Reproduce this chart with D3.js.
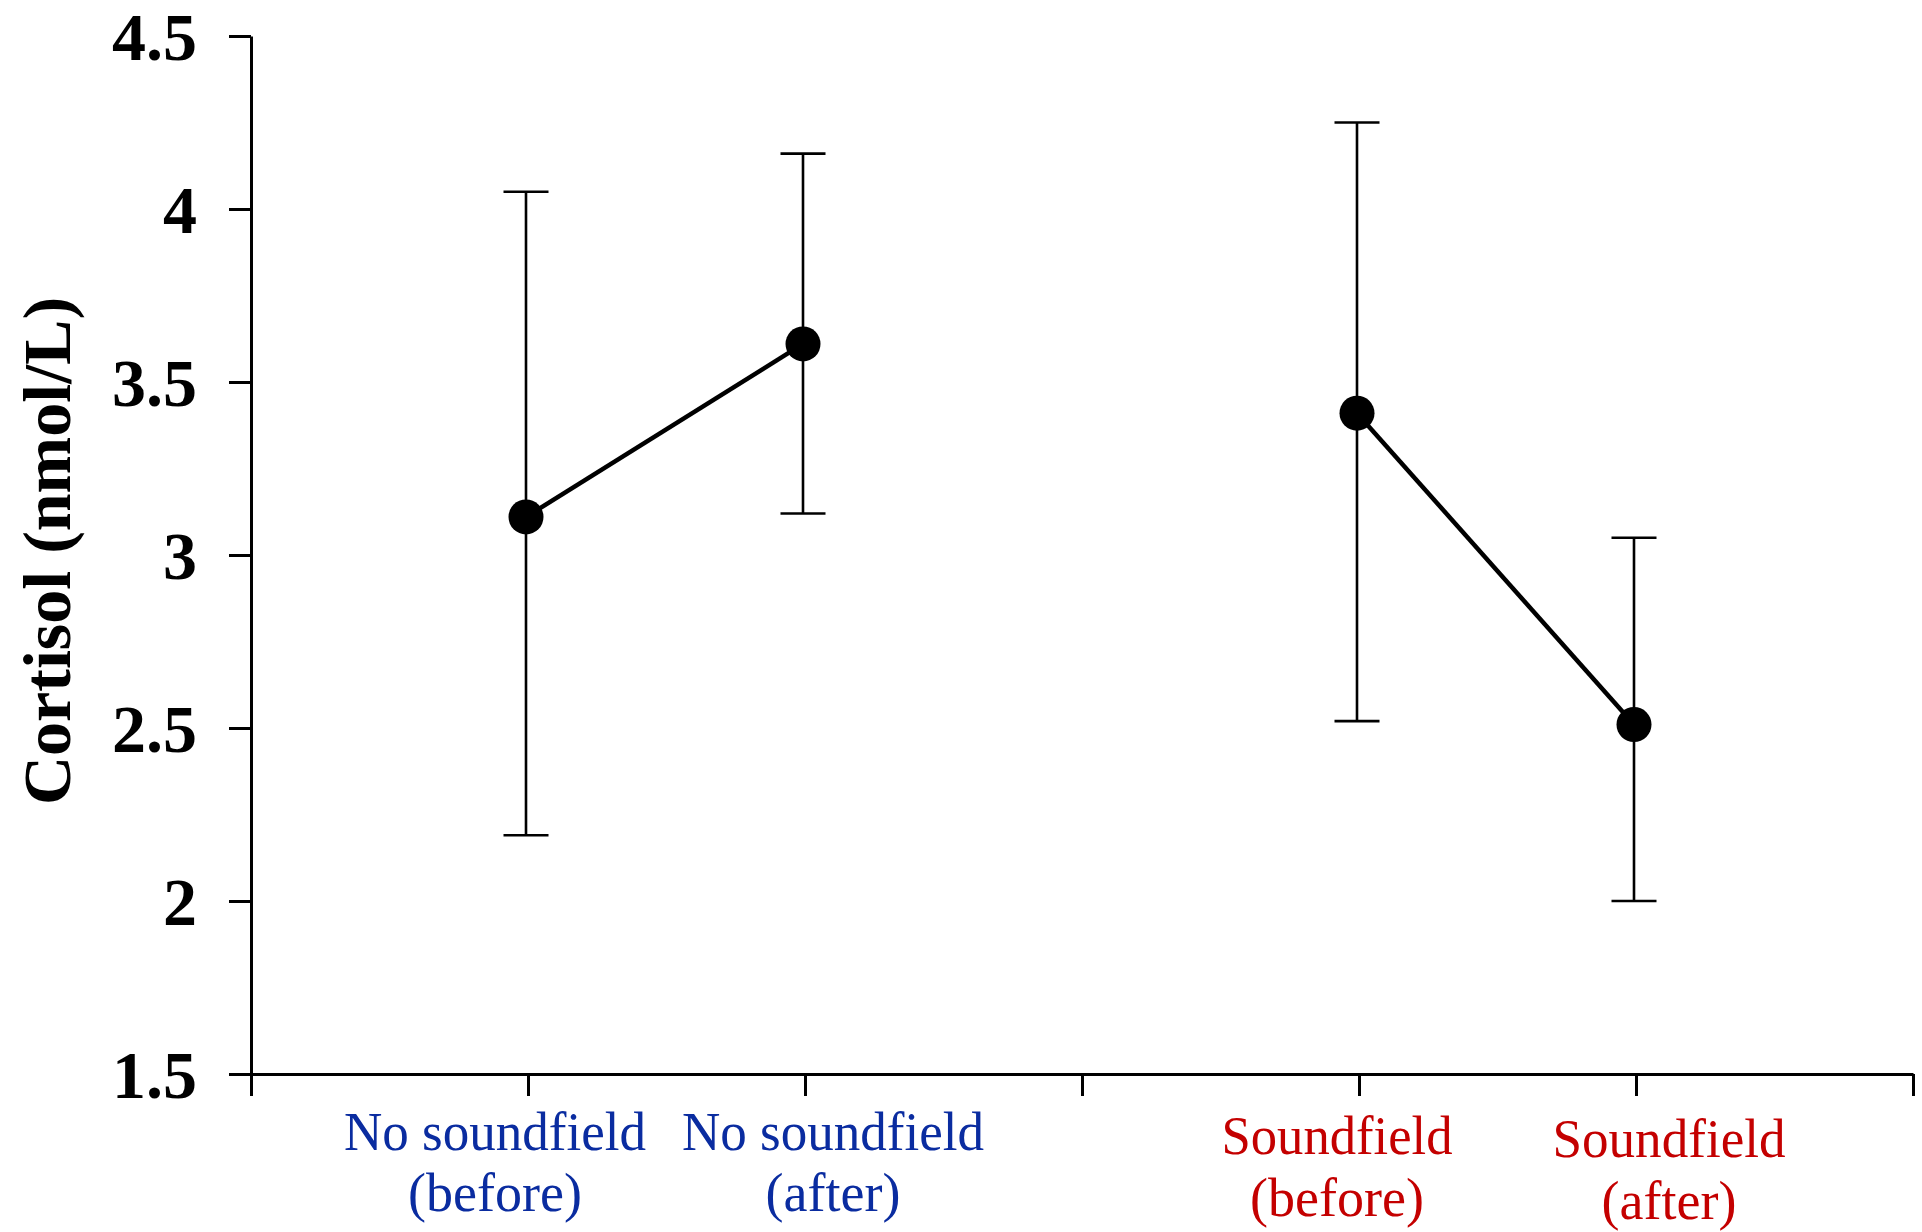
<!DOCTYPE html>
<html>
<head>
<meta charset="utf-8">
<script src="https://cdn.jsdelivr.net/npm/d3@7"></script>
<style>
  html, body { margin: 0; padding: 0; background: #fff; }
  svg { display: block; }
</style>
</head>
<body>
<svg id="chart" width="1922" height="1232"></svg>
<script>
// ---- data ----
const categories = ["No soundfield (before)", "No soundfield (after)", "Soundfield (before)", "Soundfield (after)"];
const labelLine1 = ["No soundfield", "No soundfield", "Soundfield", "Soundfield"];
const labelLine2 = ["(before)", "(after)", "(before)", "(after)"];
const slotIndex = [1, 2, 4, 5];          // position on the 0..6 category axis
const groupOf = [0, 0, 1, 1];
const means = [3.11, 3.61, 3.41, 2.51];
const upper = [4.05, 4.16, 4.25, 3.05];
const lower = [2.19, 3.12, 2.52, 2.00];
const yTicks = [1.5, 2, 2.5, 3, 3.5, 4, 4.5];
const yTickLabels = ["1.5", "2", "2.5", "3", "3.5", "4", "4.5"];
const yTitle = "Cortisol (nmol/L)";

// ---- styles / layout ----
const groupColors = ["#0a2ca0", "#c40000"];
const labelDx = [-33, 28, -22, 33];
const line1Y = [1150, 1150, 1154, 1157];
const line2Y = [1211, 1211, 1216, 1219];
const line1Len = [302, 302, 231, 233];
const serif = "'Liberation Serif', 'Times New Roman', Times, serif";

const svg = d3.select("#chart");
const x = d3.scaleLinear().domain([0, 6]).range([251, 1913]);
const y = d3.scaleLinear().domain([1.5, 4.5]).range([1074, 36]);

// y axis
const yAxis = d3.axisLeft(y).tickValues(yTicks)
  .tickFormat((d, i) => yTickLabels[i]).tickSize(22).tickSizeOuter(0).tickPadding(32);
const gy = svg.append("g").attr("transform", `translate(${x(0)},0)`).call(yAxis);
gy.select(".domain").attr("stroke", "#000").attr("stroke-width", 3);
gy.selectAll(".tick line").attr("stroke", "#000").attr("stroke-width", 3);
gy.selectAll(".tick text")
  .attr("fill", "#000")
  .style("font-family", serif).style("font-weight", "bold").style("font-size", "68px")
  .attr("dy", "0.34em");

// x axis
const xAxis = d3.axisBottom(x).tickValues(d3.range(0, 7)).tickFormat("").tickSize(22).tickSizeOuter(0);
const gx = svg.append("g").attr("transform", `translate(0,${y(1.5)})`).call(xAxis);
gx.select(".domain").attr("stroke", "#000").attr("stroke-width", 3);
gx.selectAll(".tick line").attr("stroke", "#000").attr("stroke-width", 3);

// y title
svg.append("text")
  .attr("transform", `translate(70,551) rotate(-90)`)
  .attr("text-anchor", "middle")
  .style("font-family", serif).style("font-weight", "bold").style("font-size", "68px")
  .attr("fill", "#000")
  .text(yTitle);

// category labels
categories.forEach((c, i) => {
  const cx = x(slotIndex[i]) + labelDx[i];
  const col = groupColors[groupOf[i]];
  svg.append("text")
    .attr("x", cx).attr("y", line1Y[i])
    .attr("text-anchor", "middle")
    .attr("textLength", line1Len[i]).attr("lengthAdjust", "spacingAndGlyphs")
    .style("font-family", serif).style("font-size", "54px")
    .attr("fill", col).text(labelLine1[i]);
  svg.append("text")
    .attr("x", cx).attr("y", line2Y[i])
    .attr("text-anchor", "middle")
    .style("font-family", serif).style("font-size", "54px")
    .attr("fill", col).text(labelLine2[i]);
});

// error bars
const cap = 22.5;
const eb = svg.append("g").attr("stroke", "#000").attr("stroke-width", 2.6).attr("fill", "none");
means.forEach((m, i) => {
  const px = x(slotIndex[i]) - 2;
  eb.append("line").attr("x1", px).attr("x2", px).attr("y1", y(upper[i])).attr("y2", y(lower[i]));
  eb.append("line").attr("x1", px - cap).attr("x2", px + cap).attr("y1", y(upper[i])).attr("y2", y(upper[i]));
  eb.append("line").attr("x1", px - cap).attr("x2", px + cap).attr("y1", y(lower[i])).attr("y2", y(lower[i]));
});

// connecting lines per group
const lineGen = d3.line().x(i => x(slotIndex[i]) - 2).y(i => y(means[i]));
[[0, 1], [2, 3]].forEach(idx => {
  svg.append("path").attr("d", lineGen(idx))
    .attr("fill", "none").attr("stroke", "#000").attr("stroke-width", 4.5);
});

// points
svg.append("g").selectAll("circle").data(means).join("circle")
  .attr("cx", (d, i) => x(slotIndex[i]) - 2)
  .attr("cy", d => y(d))
  .attr("r", 17.5)
  .attr("fill", "#000");
</script>
</body>
</html>
